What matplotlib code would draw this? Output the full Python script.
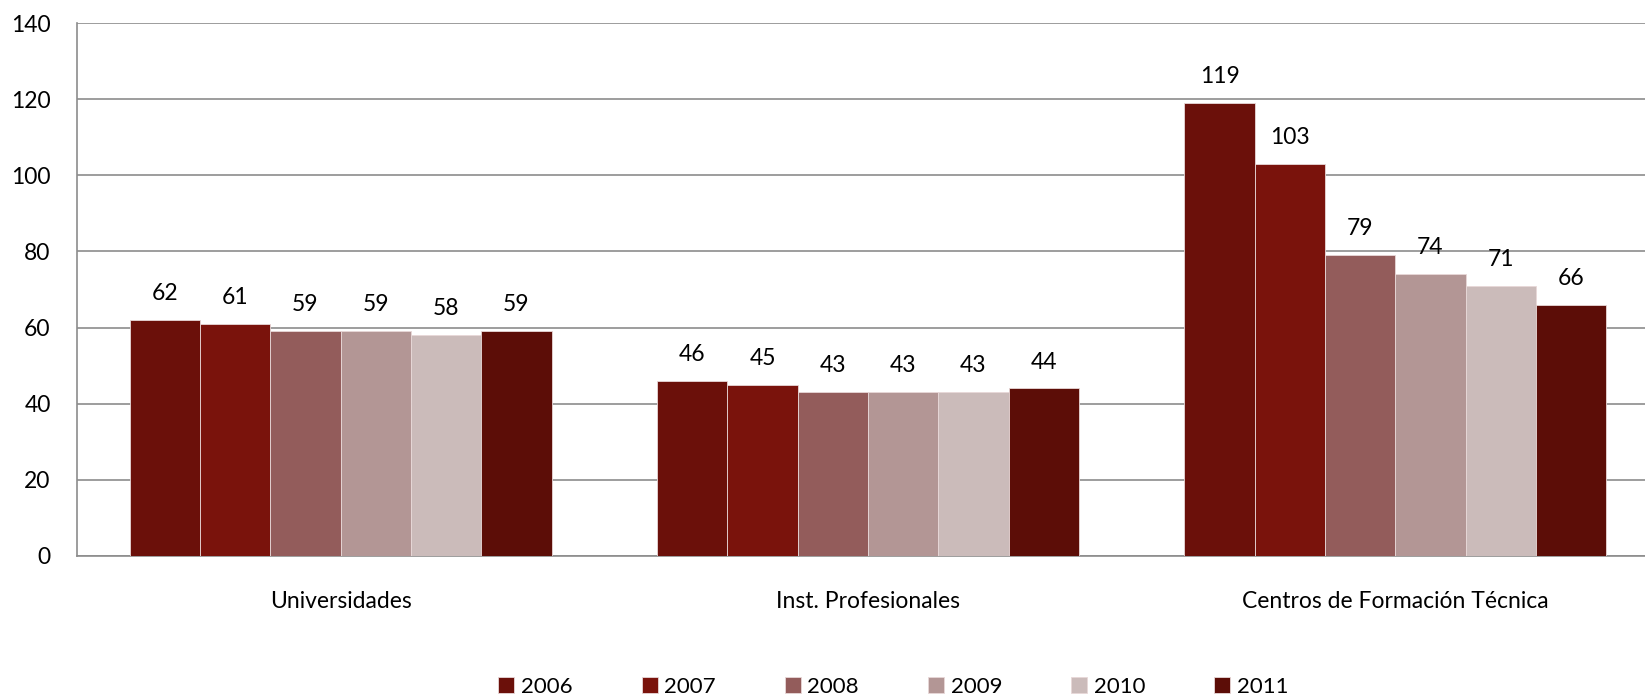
import numpy as np
import matplotlib.pyplot as plt

plt.rcParams['font.family'] = ['Lato', 'DejaVu Sans']

categories = ['Universidades', 'Inst. Profesionales', 'Centros de Formación Técnica']
years = ['2006', '2007', '2008', '2009', '2010', '2011']
v2006 = [62, 46, 119]
v2007 = [61, 45, 103]
v2008 = [59, 43, 79]
v2009 = [59, 43, 74]
v2010 = [58, 43, 71]
v2011 = [59, 44, 66]
series = [v2006, v2007, v2008, v2009, v2010, v2011]
colors = ['#6B100A', '#7A130C', '#935C5B', '#B39695', '#CBBBBA', '#5C0D07']

fig = plt.figure(figsize=(16.45, 6.98), dpi=100)
# plot area runs a little past the right edge of the picture
ax = fig.add_axes([77 / 1645, 1 - 556 / 698, 1582 / 1645, 533 / 698])

x = np.arange(len(categories))
w = 0.1333
for i, (vals, c) in enumerate(zip(series, colors)):
    pos = x + (i - 2.5) * w
    bars = ax.bar(pos, vals, w, color=c, edgecolor='#E8D8D8', linewidth=0.6,
                  label=years[i], zorder=3)
    for b, v in zip(bars, vals):
        ax.annotate(str(v), (b.get_x() + b.get_width() / 2, v),
                    xytext=(0, 19), textcoords='offset points',
                    ha='center', va='center', fontsize=16.5, color='black')

ax.set_xlim(-0.5, 2.5)
ax.set_ylim(0, 140)
ax.set_yticks(range(0, 141, 20))
ax.yaxis.grid(True, color='#8C8C8C', linewidth=1.2, zorder=0)
ax.set_xticks(x)
ax.set_xticklabels(categories)
ax.tick_params(axis='both', length=0, labelsize=16.5)
ax.tick_params(axis='x', pad=25)
ax.tick_params(axis='y', pad=19)
for s in ['top', 'right']:
    ax.spines[s].set_visible(False)
for s in ['left', 'bottom']:
    ax.spines[s].set_color('#8C8C8C')
    ax.spines[s].set_linewidth(1.2)

ax.legend(loc='center', bbox_to_anchor=(0.516, -0.245),
          ncol=6, frameon=False, fontsize=16, handlelength=0.72, handleheight=0.72,
          handletextpad=0.3, columnspacing=3.1, borderpad=0.2)

fig.savefig('out.png', dpi=100)
